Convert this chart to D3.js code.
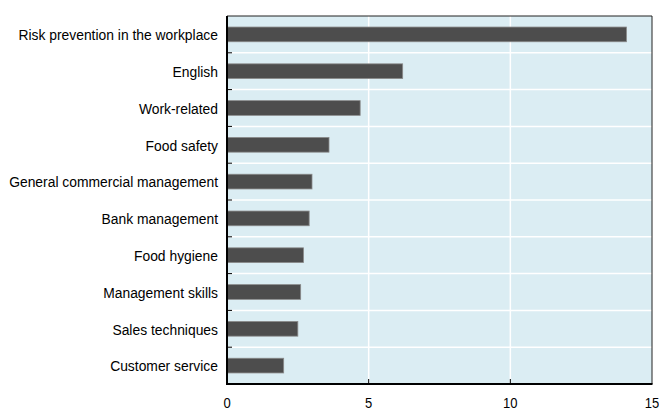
<!DOCTYPE html>
<html><head><meta charset="utf-8">
<script src="https://cdn.jsdelivr.net/npm/d3@7"></script>
<style>body{margin:0;background:#fff;} text{font-family:"Liberation Sans",Arial,sans-serif;}</style>
</head><body>
<svg id="c" width="659" height="412"></svg>
<script>
const categories = ["Risk prevention in the workplace","English","Work-related","Food safety","General commercial management","Bank management","Food hygiene","Management skills","Sales techniques","Customer service"];
const values = [14.1, 6.2, 4.7, 3.6, 3.0, 2.9, 2.7, 2.6, 2.5, 2.0];
const xTicks = [0, 5, 10, 15];

const svg = d3.select("#c");
const L = 227, R = 652, T = 16, B = 384;
const x = d3.scaleLinear().domain([0, 15]).range([L, R]);
const y = d3.scaleBand().domain(categories).range([T, B]).paddingInner(0.6).paddingOuter(0.3);
const yb = d3.scaleBand().domain(categories).range([T, B]);

svg.append("rect").attr("x", L).attr("y", T).attr("width", R - L).attr("height", B - T).attr("fill", "#dbedf3");

svg.selectAll(".vg").data(xTicks.slice(1, -1)).join("line")
  .attr("x1", d => x(d)).attr("x2", d => x(d)).attr("y1", T).attr("y2", B)
  .attr("stroke", "#fff").attr("stroke-width", 1.5);
svg.selectAll(".hg").data(categories.slice(1)).join("line")
  .attr("x1", L).attr("x2", R).attr("y1", d => yb(d)).attr("y2", d => yb(d))
  .attr("stroke", "#fff").attr("stroke-width", 1.5);

svg.selectAll(".bar").data(categories).join("rect")
  .attr("x", x(0)).attr("y", d => y(d))
  .attr("width", (d, i) => x(values[i]) - x(0)).attr("height", y.bandwidth())
  .attr("fill", "#4d4d4d").attr("stroke", "#8a8a8a").attr("stroke-width", 0.8);

svg.append("line").attr("x1", L).attr("x2", R).attr("y1", T).attr("y2", T).attr("stroke", "#222").attr("stroke-width", 1);
svg.append("line").attr("x1", R).attr("x2", R).attr("y1", T).attr("y2", B).attr("stroke", "#222").attr("stroke-width", 1);

svg.selectAll(".yt").data(categories.slice(1)).join("line")
  .attr("x1", L).attr("x2", L + 5).attr("y1", d => yb(d)).attr("y2", d => yb(d))
  .attr("stroke", "#000").attr("stroke-width", 1);
svg.selectAll(".xt").data(xTicks.slice(1, -1)).join("line")
  .attr("x1", d => x(d)).attr("x2", d => x(d)).attr("y1", B).attr("y2", B - 5)
  .attr("stroke", "#000").attr("stroke-width", 1);

svg.append("line").attr("x1", L).attr("x2", L).attr("y1", T).attr("y2", B).attr("stroke", "#000").attr("stroke-width", 2);
svg.append("line").attr("x1", L - 1).attr("x2", R + 0.5).attr("y1", B).attr("y2", B).attr("stroke", "#000").attr("stroke-width", 2);

svg.selectAll(".cl").data(categories).join("text")
  .attr("transform", d => `translate(218,${y(d) + y.bandwidth() / 2}) scale(0.925,1)`)
  .attr("dy", "0.38em")
  .attr("text-anchor", "end").attr("font-size", 15).attr("fill", "#000").text(d => d);

svg.selectAll(".xl").data(xTicks).join("text")
  .attr("transform", d => `translate(${x(d)},408) scale(0.93,1)`)
  .attr("text-anchor", "middle")
  .attr("font-size", 14).attr("fill", "#000").text(d => d);
</script>
</body></html>
